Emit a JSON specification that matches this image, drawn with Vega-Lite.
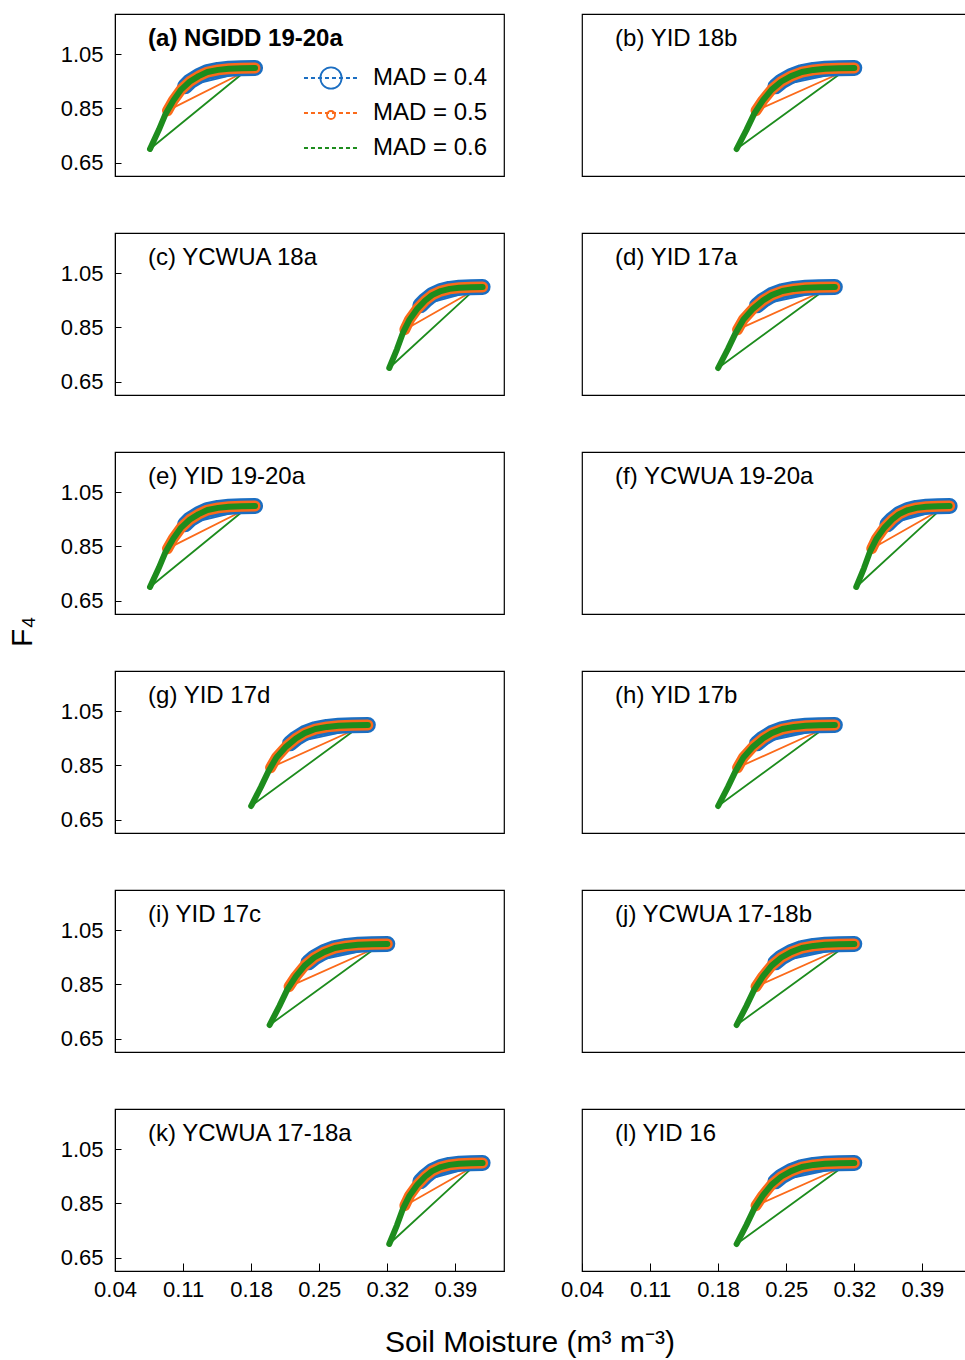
{
"$schema": "https://vega.github.io/schema/vega-lite/v6.json",
"padding": {"left": 8, "top": 13, "right": 0, "bottom": 5},
"background": "white",
"config": {"font": "Liberation Sans", "view": {"stroke": "black", "strokeWidth": 1.2}, "title": {"color": "black", "fontWeight": "normal"}, "headerFacet": {"labels": false, "title": null, "labelFontSize": 0, "labelPadding": 0}},
"datasets": {
"sites": [
{"panel":"a","name":"(a) NGIDD 19-20a"},{"panel":"b","name":"(b) YID 18b"},{"panel":"c","name":"(c) YCWUA 18a"},{"panel":"d","name":"(d) YID 17a"},
{"panel":"e","name":"(e) YID 19-20a"},{"panel":"f","name":"(f) YCWUA 19-20a"},{"panel":"g","name":"(g) YID 17d"},{"panel":"h","name":"(h) YID 17b"},
{"panel":"i","name":"(i) YID 17c"},{"panel":"j","name":"(j) YCWUA 17-18b"},{"panel":"k","name":"(k) YCWUA 17-18a"},{"panel":"l","name":"(l) YID 16"}],
"points": [
{"panel":"a","mad":0.4,"step":0,"phase":"dry","theta":0.184,"F4":1},{"panel":"a","mad":0.4,"step":1,"phase":"dry","theta":0.170,"F4":0.999},{"panel":"a","mad":0.4,"step":2,"phase":"dry","theta":0.157,"F4":0.997},{"panel":"a","mad":0.4,"step":3,"phase":"dry","theta":0.146,"F4":0.993},{"panel":"a","mad":0.4,"step":4,"phase":"dry","theta":0.135,"F4":0.985},{"panel":"a","mad":0.4,"step":5,"phase":"dry","theta":0.126,"F4":0.97},{"panel":"a","mad":0.4,"step":6,"phase":"dry","theta":0.117,"F4":0.95},{"panel":"a","mad":0.4,"step":7,"phase":"dry","theta":0.112,"F4":0.932},{"panel":"a","mad":0.4,"step":8,"phase":"refill","theta":0.173,"F4":0.985},
{"panel":"a","mad":0.5,"step":0,"phase":"dry","theta":0.184,"F4":1},{"panel":"a","mad":0.5,"step":1,"phase":"dry","theta":0.170,"F4":0.999},{"panel":"a","mad":0.5,"step":2,"phase":"dry","theta":0.157,"F4":0.997},{"panel":"a","mad":0.5,"step":3,"phase":"dry","theta":0.146,"F4":0.993},{"panel":"a","mad":0.5,"step":4,"phase":"dry","theta":0.135,"F4":0.985},{"panel":"a","mad":0.5,"step":5,"phase":"dry","theta":0.126,"F4":0.97},{"panel":"a","mad":0.5,"step":6,"phase":"dry","theta":0.117,"F4":0.95},{"panel":"a","mad":0.5,"step":7,"phase":"dry","theta":0.108,"F4":0.92},{"panel":"a","mad":0.5,"step":8,"phase":"dry","theta":0.100,"F4":0.88},{"panel":"a","mad":0.5,"step":9,"phase":"dry","theta":0.094,"F4":0.842},{"panel":"a","mad":0.5,"step":10,"phase":"refill","theta":0.173,"F4":0.985},
{"panel":"a","mad":0.6,"step":0,"phase":"dry","theta":0.184,"F4":1},{"panel":"a","mad":0.6,"step":1,"phase":"dry","theta":0.170,"F4":0.999},{"panel":"a","mad":0.6,"step":2,"phase":"dry","theta":0.157,"F4":0.997},{"panel":"a","mad":0.6,"step":3,"phase":"dry","theta":0.146,"F4":0.993},{"panel":"a","mad":0.6,"step":4,"phase":"dry","theta":0.135,"F4":0.985},{"panel":"a","mad":0.6,"step":5,"phase":"dry","theta":0.126,"F4":0.97},{"panel":"a","mad":0.6,"step":6,"phase":"dry","theta":0.117,"F4":0.95},{"panel":"a","mad":0.6,"step":7,"phase":"dry","theta":0.108,"F4":0.92},{"panel":"a","mad":0.6,"step":8,"phase":"dry","theta":0.100,"F4":0.88},{"panel":"a","mad":0.6,"step":9,"phase":"dry","theta":0.092,"F4":0.83},{"panel":"a","mad":0.6,"step":10,"phase":"dry","theta":0.085,"F4":0.77},{"panel":"a","mad":0.6,"step":11,"phase":"dry","theta":0.076,"F4":0.70},{"panel":"a","mad":0.6,"step":12,"phase":"refill","theta":0.173,"F4":0.985},

{"panel":"e","mad":0.4,"step":0,"phase":"dry","theta":0.184,"F4":1},{"panel":"e","mad":0.4,"step":1,"phase":"dry","theta":0.170,"F4":0.999},{"panel":"e","mad":0.4,"step":2,"phase":"dry","theta":0.157,"F4":0.997},{"panel":"e","mad":0.4,"step":3,"phase":"dry","theta":0.146,"F4":0.993},{"panel":"e","mad":0.4,"step":4,"phase":"dry","theta":0.135,"F4":0.985},{"panel":"e","mad":0.4,"step":5,"phase":"dry","theta":0.126,"F4":0.97},{"panel":"e","mad":0.4,"step":6,"phase":"dry","theta":0.117,"F4":0.95},{"panel":"e","mad":0.4,"step":7,"phase":"dry","theta":0.112,"F4":0.932},{"panel":"e","mad":0.4,"step":8,"phase":"refill","theta":0.173,"F4":0.985},
{"panel":"e","mad":0.5,"step":0,"phase":"dry","theta":0.184,"F4":1},{"panel":"e","mad":0.5,"step":1,"phase":"dry","theta":0.170,"F4":0.999},{"panel":"e","mad":0.5,"step":2,"phase":"dry","theta":0.157,"F4":0.997},{"panel":"e","mad":0.5,"step":3,"phase":"dry","theta":0.146,"F4":0.993},{"panel":"e","mad":0.5,"step":4,"phase":"dry","theta":0.135,"F4":0.985},{"panel":"e","mad":0.5,"step":5,"phase":"dry","theta":0.126,"F4":0.97},{"panel":"e","mad":0.5,"step":6,"phase":"dry","theta":0.117,"F4":0.95},{"panel":"e","mad":0.5,"step":7,"phase":"dry","theta":0.108,"F4":0.92},{"panel":"e","mad":0.5,"step":8,"phase":"dry","theta":0.100,"F4":0.88},{"panel":"e","mad":0.5,"step":9,"phase":"dry","theta":0.094,"F4":0.842},{"panel":"e","mad":0.5,"step":10,"phase":"refill","theta":0.173,"F4":0.985},
{"panel":"e","mad":0.6,"step":0,"phase":"dry","theta":0.184,"F4":1},{"panel":"e","mad":0.6,"step":1,"phase":"dry","theta":0.170,"F4":0.999},{"panel":"e","mad":0.6,"step":2,"phase":"dry","theta":0.157,"F4":0.997},{"panel":"e","mad":0.6,"step":3,"phase":"dry","theta":0.146,"F4":0.993},{"panel":"e","mad":0.6,"step":4,"phase":"dry","theta":0.135,"F4":0.985},{"panel":"e","mad":0.6,"step":5,"phase":"dry","theta":0.126,"F4":0.97},{"panel":"e","mad":0.6,"step":6,"phase":"dry","theta":0.117,"F4":0.95},{"panel":"e","mad":0.6,"step":7,"phase":"dry","theta":0.108,"F4":0.92},{"panel":"e","mad":0.6,"step":8,"phase":"dry","theta":0.100,"F4":0.88},{"panel":"e","mad":0.6,"step":9,"phase":"dry","theta":0.092,"F4":0.83},{"panel":"e","mad":0.6,"step":10,"phase":"dry","theta":0.085,"F4":0.77},{"panel":"e","mad":0.6,"step":11,"phase":"dry","theta":0.076,"F4":0.70},{"panel":"e","mad":0.6,"step":12,"phase":"refill","theta":0.173,"F4":0.985},

{"panel":"b","mad":0.4,"step":0,"phase":"dry","theta":0.320,"F4":1},{"panel":"b","mad":0.4,"step":1,"phase":"dry","theta":0.304,"F4":0.999},{"panel":"b","mad":0.4,"step":2,"phase":"dry","theta":0.290,"F4":0.997},{"panel":"b","mad":0.4,"step":3,"phase":"dry","theta":0.278,"F4":0.993},{"panel":"b","mad":0.4,"step":4,"phase":"dry","theta":0.266,"F4":0.985},{"panel":"b","mad":0.4,"step":5,"phase":"dry","theta":0.255,"F4":0.97},{"panel":"b","mad":0.4,"step":6,"phase":"dry","theta":0.245,"F4":0.95},{"panel":"b","mad":0.4,"step":7,"phase":"dry","theta":0.239,"F4":0.932},{"panel":"b","mad":0.4,"step":8,"phase":"refill","theta":0.308,"F4":0.985},
{"panel":"b","mad":0.5,"step":0,"phase":"dry","theta":0.320,"F4":1},{"panel":"b","mad":0.5,"step":1,"phase":"dry","theta":0.304,"F4":0.999},{"panel":"b","mad":0.5,"step":2,"phase":"dry","theta":0.290,"F4":0.997},{"panel":"b","mad":0.5,"step":3,"phase":"dry","theta":0.278,"F4":0.993},{"panel":"b","mad":0.5,"step":4,"phase":"dry","theta":0.266,"F4":0.985},{"panel":"b","mad":0.5,"step":5,"phase":"dry","theta":0.255,"F4":0.97},{"panel":"b","mad":0.5,"step":6,"phase":"dry","theta":0.245,"F4":0.95},{"panel":"b","mad":0.5,"step":7,"phase":"dry","theta":0.235,"F4":0.92},{"panel":"b","mad":0.5,"step":8,"phase":"dry","theta":0.226,"F4":0.88},{"panel":"b","mad":0.5,"step":9,"phase":"dry","theta":0.219,"F4":0.842},{"panel":"b","mad":0.5,"step":10,"phase":"refill","theta":0.308,"F4":0.985},
{"panel":"b","mad":0.6,"step":0,"phase":"dry","theta":0.320,"F4":1},{"panel":"b","mad":0.6,"step":1,"phase":"dry","theta":0.304,"F4":0.999},{"panel":"b","mad":0.6,"step":2,"phase":"dry","theta":0.290,"F4":0.997},{"panel":"b","mad":0.6,"step":3,"phase":"dry","theta":0.278,"F4":0.993},{"panel":"b","mad":0.6,"step":4,"phase":"dry","theta":0.266,"F4":0.985},{"panel":"b","mad":0.6,"step":5,"phase":"dry","theta":0.255,"F4":0.97},{"panel":"b","mad":0.6,"step":6,"phase":"dry","theta":0.245,"F4":0.95},{"panel":"b","mad":0.6,"step":7,"phase":"dry","theta":0.235,"F4":0.92},{"panel":"b","mad":0.6,"step":8,"phase":"dry","theta":0.226,"F4":0.88},{"panel":"b","mad":0.6,"step":9,"phase":"dry","theta":0.217,"F4":0.83},{"panel":"b","mad":0.6,"step":10,"phase":"dry","theta":0.209,"F4":0.77},{"panel":"b","mad":0.6,"step":11,"phase":"dry","theta":0.199,"F4":0.70},{"panel":"b","mad":0.6,"step":12,"phase":"refill","theta":0.308,"F4":0.985},

{"panel":"i","mad":0.4,"step":0,"phase":"dry","theta":0.320,"F4":1},{"panel":"i","mad":0.4,"step":1,"phase":"dry","theta":0.304,"F4":0.999},{"panel":"i","mad":0.4,"step":2,"phase":"dry","theta":0.290,"F4":0.997},{"panel":"i","mad":0.4,"step":3,"phase":"dry","theta":0.278,"F4":0.993},{"panel":"i","mad":0.4,"step":4,"phase":"dry","theta":0.266,"F4":0.985},{"panel":"i","mad":0.4,"step":5,"phase":"dry","theta":0.255,"F4":0.97},{"panel":"i","mad":0.4,"step":6,"phase":"dry","theta":0.245,"F4":0.95},{"panel":"i","mad":0.4,"step":7,"phase":"dry","theta":0.239,"F4":0.932},{"panel":"i","mad":0.4,"step":8,"phase":"refill","theta":0.308,"F4":0.985},
{"panel":"i","mad":0.5,"step":0,"phase":"dry","theta":0.320,"F4":1},{"panel":"i","mad":0.5,"step":1,"phase":"dry","theta":0.304,"F4":0.999},{"panel":"i","mad":0.5,"step":2,"phase":"dry","theta":0.290,"F4":0.997},{"panel":"i","mad":0.5,"step":3,"phase":"dry","theta":0.278,"F4":0.993},{"panel":"i","mad":0.5,"step":4,"phase":"dry","theta":0.266,"F4":0.985},{"panel":"i","mad":0.5,"step":5,"phase":"dry","theta":0.255,"F4":0.97},{"panel":"i","mad":0.5,"step":6,"phase":"dry","theta":0.245,"F4":0.95},{"panel":"i","mad":0.5,"step":7,"phase":"dry","theta":0.235,"F4":0.92},{"panel":"i","mad":0.5,"step":8,"phase":"dry","theta":0.226,"F4":0.88},{"panel":"i","mad":0.5,"step":9,"phase":"dry","theta":0.219,"F4":0.842},{"panel":"i","mad":0.5,"step":10,"phase":"refill","theta":0.308,"F4":0.985},
{"panel":"i","mad":0.6,"step":0,"phase":"dry","theta":0.320,"F4":1},{"panel":"i","mad":0.6,"step":1,"phase":"dry","theta":0.304,"F4":0.999},{"panel":"i","mad":0.6,"step":2,"phase":"dry","theta":0.290,"F4":0.997},{"panel":"i","mad":0.6,"step":3,"phase":"dry","theta":0.278,"F4":0.993},{"panel":"i","mad":0.6,"step":4,"phase":"dry","theta":0.266,"F4":0.985},{"panel":"i","mad":0.6,"step":5,"phase":"dry","theta":0.255,"F4":0.97},{"panel":"i","mad":0.6,"step":6,"phase":"dry","theta":0.245,"F4":0.95},{"panel":"i","mad":0.6,"step":7,"phase":"dry","theta":0.235,"F4":0.92},{"panel":"i","mad":0.6,"step":8,"phase":"dry","theta":0.226,"F4":0.88},{"panel":"i","mad":0.6,"step":9,"phase":"dry","theta":0.217,"F4":0.83},{"panel":"i","mad":0.6,"step":10,"phase":"dry","theta":0.209,"F4":0.77},{"panel":"i","mad":0.6,"step":11,"phase":"dry","theta":0.199,"F4":0.70},{"panel":"i","mad":0.6,"step":12,"phase":"refill","theta":0.308,"F4":0.985},

{"panel":"j","mad":0.4,"step":0,"phase":"dry","theta":0.320,"F4":1},{"panel":"j","mad":0.4,"step":1,"phase":"dry","theta":0.304,"F4":0.999},{"panel":"j","mad":0.4,"step":2,"phase":"dry","theta":0.290,"F4":0.997},{"panel":"j","mad":0.4,"step":3,"phase":"dry","theta":0.278,"F4":0.993},{"panel":"j","mad":0.4,"step":4,"phase":"dry","theta":0.266,"F4":0.985},{"panel":"j","mad":0.4,"step":5,"phase":"dry","theta":0.255,"F4":0.97},{"panel":"j","mad":0.4,"step":6,"phase":"dry","theta":0.245,"F4":0.95},{"panel":"j","mad":0.4,"step":7,"phase":"dry","theta":0.239,"F4":0.932},{"panel":"j","mad":0.4,"step":8,"phase":"refill","theta":0.308,"F4":0.985},
{"panel":"j","mad":0.5,"step":0,"phase":"dry","theta":0.320,"F4":1},{"panel":"j","mad":0.5,"step":1,"phase":"dry","theta":0.304,"F4":0.999},{"panel":"j","mad":0.5,"step":2,"phase":"dry","theta":0.290,"F4":0.997},{"panel":"j","mad":0.5,"step":3,"phase":"dry","theta":0.278,"F4":0.993},{"panel":"j","mad":0.5,"step":4,"phase":"dry","theta":0.266,"F4":0.985},{"panel":"j","mad":0.5,"step":5,"phase":"dry","theta":0.255,"F4":0.97},{"panel":"j","mad":0.5,"step":6,"phase":"dry","theta":0.245,"F4":0.95},{"panel":"j","mad":0.5,"step":7,"phase":"dry","theta":0.235,"F4":0.92},{"panel":"j","mad":0.5,"step":8,"phase":"dry","theta":0.226,"F4":0.88},{"panel":"j","mad":0.5,"step":9,"phase":"dry","theta":0.219,"F4":0.842},{"panel":"j","mad":0.5,"step":10,"phase":"refill","theta":0.308,"F4":0.985},
{"panel":"j","mad":0.6,"step":0,"phase":"dry","theta":0.320,"F4":1},{"panel":"j","mad":0.6,"step":1,"phase":"dry","theta":0.304,"F4":0.999},{"panel":"j","mad":0.6,"step":2,"phase":"dry","theta":0.290,"F4":0.997},{"panel":"j","mad":0.6,"step":3,"phase":"dry","theta":0.278,"F4":0.993},{"panel":"j","mad":0.6,"step":4,"phase":"dry","theta":0.266,"F4":0.985},{"panel":"j","mad":0.6,"step":5,"phase":"dry","theta":0.255,"F4":0.97},{"panel":"j","mad":0.6,"step":6,"phase":"dry","theta":0.245,"F4":0.95},{"panel":"j","mad":0.6,"step":7,"phase":"dry","theta":0.235,"F4":0.92},{"panel":"j","mad":0.6,"step":8,"phase":"dry","theta":0.226,"F4":0.88},{"panel":"j","mad":0.6,"step":9,"phase":"dry","theta":0.217,"F4":0.83},{"panel":"j","mad":0.6,"step":10,"phase":"dry","theta":0.209,"F4":0.77},{"panel":"j","mad":0.6,"step":11,"phase":"dry","theta":0.199,"F4":0.70},{"panel":"j","mad":0.6,"step":12,"phase":"refill","theta":0.308,"F4":0.985},

{"panel":"l","mad":0.4,"step":0,"phase":"dry","theta":0.320,"F4":1},{"panel":"l","mad":0.4,"step":1,"phase":"dry","theta":0.304,"F4":0.999},{"panel":"l","mad":0.4,"step":2,"phase":"dry","theta":0.290,"F4":0.997},{"panel":"l","mad":0.4,"step":3,"phase":"dry","theta":0.278,"F4":0.993},{"panel":"l","mad":0.4,"step":4,"phase":"dry","theta":0.266,"F4":0.985},{"panel":"l","mad":0.4,"step":5,"phase":"dry","theta":0.255,"F4":0.97},{"panel":"l","mad":0.4,"step":6,"phase":"dry","theta":0.245,"F4":0.95},{"panel":"l","mad":0.4,"step":7,"phase":"dry","theta":0.239,"F4":0.932},{"panel":"l","mad":0.4,"step":8,"phase":"refill","theta":0.308,"F4":0.985},
{"panel":"l","mad":0.5,"step":0,"phase":"dry","theta":0.320,"F4":1},{"panel":"l","mad":0.5,"step":1,"phase":"dry","theta":0.304,"F4":0.999},{"panel":"l","mad":0.5,"step":2,"phase":"dry","theta":0.290,"F4":0.997},{"panel":"l","mad":0.5,"step":3,"phase":"dry","theta":0.278,"F4":0.993},{"panel":"l","mad":0.5,"step":4,"phase":"dry","theta":0.266,"F4":0.985},{"panel":"l","mad":0.5,"step":5,"phase":"dry","theta":0.255,"F4":0.97},{"panel":"l","mad":0.5,"step":6,"phase":"dry","theta":0.245,"F4":0.95},{"panel":"l","mad":0.5,"step":7,"phase":"dry","theta":0.235,"F4":0.92},{"panel":"l","mad":0.5,"step":8,"phase":"dry","theta":0.226,"F4":0.88},{"panel":"l","mad":0.5,"step":9,"phase":"dry","theta":0.219,"F4":0.842},{"panel":"l","mad":0.5,"step":10,"phase":"refill","theta":0.308,"F4":0.985},
{"panel":"l","mad":0.6,"step":0,"phase":"dry","theta":0.320,"F4":1},{"panel":"l","mad":0.6,"step":1,"phase":"dry","theta":0.304,"F4":0.999},{"panel":"l","mad":0.6,"step":2,"phase":"dry","theta":0.290,"F4":0.997},{"panel":"l","mad":0.6,"step":3,"phase":"dry","theta":0.278,"F4":0.993},{"panel":"l","mad":0.6,"step":4,"phase":"dry","theta":0.266,"F4":0.985},{"panel":"l","mad":0.6,"step":5,"phase":"dry","theta":0.255,"F4":0.97},{"panel":"l","mad":0.6,"step":6,"phase":"dry","theta":0.245,"F4":0.95},{"panel":"l","mad":0.6,"step":7,"phase":"dry","theta":0.235,"F4":0.92},{"panel":"l","mad":0.6,"step":8,"phase":"dry","theta":0.226,"F4":0.88},{"panel":"l","mad":0.6,"step":9,"phase":"dry","theta":0.217,"F4":0.83},{"panel":"l","mad":0.6,"step":10,"phase":"dry","theta":0.209,"F4":0.77},{"panel":"l","mad":0.6,"step":11,"phase":"dry","theta":0.199,"F4":0.70},{"panel":"l","mad":0.6,"step":12,"phase":"refill","theta":0.308,"F4":0.985},

{"panel":"c","mad":0.4,"step":0,"phase":"dry","theta":0.418,"F4":1},{"panel":"c","mad":0.4,"step":1,"phase":"dry","theta":0.406,"F4":0.999},{"panel":"c","mad":0.4,"step":2,"phase":"dry","theta":0.394,"F4":0.997},{"panel":"c","mad":0.4,"step":3,"phase":"dry","theta":0.384,"F4":0.993},{"panel":"c","mad":0.4,"step":4,"phase":"dry","theta":0.375,"F4":0.985},{"panel":"c","mad":0.4,"step":5,"phase":"dry","theta":0.366,"F4":0.97},{"panel":"c","mad":0.4,"step":6,"phase":"dry","theta":0.359,"F4":0.95},{"panel":"c","mad":0.4,"step":7,"phase":"dry","theta":0.354,"F4":0.932},{"panel":"c","mad":0.4,"step":8,"phase":"refill","theta":0.408,"F4":0.985},
{"panel":"c","mad":0.5,"step":0,"phase":"dry","theta":0.418,"F4":1},{"panel":"c","mad":0.5,"step":1,"phase":"dry","theta":0.406,"F4":0.999},{"panel":"c","mad":0.5,"step":2,"phase":"dry","theta":0.394,"F4":0.997},{"panel":"c","mad":0.5,"step":3,"phase":"dry","theta":0.384,"F4":0.993},{"panel":"c","mad":0.5,"step":4,"phase":"dry","theta":0.375,"F4":0.985},{"panel":"c","mad":0.5,"step":5,"phase":"dry","theta":0.366,"F4":0.97},{"panel":"c","mad":0.5,"step":6,"phase":"dry","theta":0.359,"F4":0.95},{"panel":"c","mad":0.5,"step":7,"phase":"dry","theta":0.351,"F4":0.92},{"panel":"c","mad":0.5,"step":8,"phase":"dry","theta":0.343,"F4":0.88},{"panel":"c","mad":0.5,"step":9,"phase":"dry","theta":0.338,"F4":0.842},{"panel":"c","mad":0.5,"step":10,"phase":"refill","theta":0.408,"F4":0.985},
{"panel":"c","mad":0.6,"step":0,"phase":"dry","theta":0.418,"F4":1},{"panel":"c","mad":0.6,"step":1,"phase":"dry","theta":0.406,"F4":0.999},{"panel":"c","mad":0.6,"step":2,"phase":"dry","theta":0.394,"F4":0.997},{"panel":"c","mad":0.6,"step":3,"phase":"dry","theta":0.384,"F4":0.993},{"panel":"c","mad":0.6,"step":4,"phase":"dry","theta":0.375,"F4":0.985},{"panel":"c","mad":0.6,"step":5,"phase":"dry","theta":0.366,"F4":0.97},{"panel":"c","mad":0.6,"step":6,"phase":"dry","theta":0.359,"F4":0.95},{"panel":"c","mad":0.6,"step":7,"phase":"dry","theta":0.351,"F4":0.92},{"panel":"c","mad":0.6,"step":8,"phase":"dry","theta":0.343,"F4":0.88},{"panel":"c","mad":0.6,"step":9,"phase":"dry","theta":0.336,"F4":0.83},{"panel":"c","mad":0.6,"step":10,"phase":"dry","theta":0.330,"F4":0.77},{"panel":"c","mad":0.6,"step":11,"phase":"dry","theta":0.322,"F4":0.70},{"panel":"c","mad":0.6,"step":12,"phase":"refill","theta":0.408,"F4":0.985},

{"panel":"f","mad":0.4,"step":0,"phase":"dry","theta":0.418,"F4":1},{"panel":"f","mad":0.4,"step":1,"phase":"dry","theta":0.406,"F4":0.999},{"panel":"f","mad":0.4,"step":2,"phase":"dry","theta":0.394,"F4":0.997},{"panel":"f","mad":0.4,"step":3,"phase":"dry","theta":0.384,"F4":0.993},{"panel":"f","mad":0.4,"step":4,"phase":"dry","theta":0.375,"F4":0.985},{"panel":"f","mad":0.4,"step":5,"phase":"dry","theta":0.366,"F4":0.97},{"panel":"f","mad":0.4,"step":6,"phase":"dry","theta":0.359,"F4":0.95},{"panel":"f","mad":0.4,"step":7,"phase":"dry","theta":0.354,"F4":0.932},{"panel":"f","mad":0.4,"step":8,"phase":"refill","theta":0.408,"F4":0.985},
{"panel":"f","mad":0.5,"step":0,"phase":"dry","theta":0.418,"F4":1},{"panel":"f","mad":0.5,"step":1,"phase":"dry","theta":0.406,"F4":0.999},{"panel":"f","mad":0.5,"step":2,"phase":"dry","theta":0.394,"F4":0.997},{"panel":"f","mad":0.5,"step":3,"phase":"dry","theta":0.384,"F4":0.993},{"panel":"f","mad":0.5,"step":4,"phase":"dry","theta":0.375,"F4":0.985},{"panel":"f","mad":0.5,"step":5,"phase":"dry","theta":0.366,"F4":0.97},{"panel":"f","mad":0.5,"step":6,"phase":"dry","theta":0.359,"F4":0.95},{"panel":"f","mad":0.5,"step":7,"phase":"dry","theta":0.351,"F4":0.92},{"panel":"f","mad":0.5,"step":8,"phase":"dry","theta":0.343,"F4":0.88},{"panel":"f","mad":0.5,"step":9,"phase":"dry","theta":0.338,"F4":0.842},{"panel":"f","mad":0.5,"step":10,"phase":"refill","theta":0.408,"F4":0.985},
{"panel":"f","mad":0.6,"step":0,"phase":"dry","theta":0.418,"F4":1},{"panel":"f","mad":0.6,"step":1,"phase":"dry","theta":0.406,"F4":0.999},{"panel":"f","mad":0.6,"step":2,"phase":"dry","theta":0.394,"F4":0.997},{"panel":"f","mad":0.6,"step":3,"phase":"dry","theta":0.384,"F4":0.993},{"panel":"f","mad":0.6,"step":4,"phase":"dry","theta":0.375,"F4":0.985},{"panel":"f","mad":0.6,"step":5,"phase":"dry","theta":0.366,"F4":0.97},{"panel":"f","mad":0.6,"step":6,"phase":"dry","theta":0.359,"F4":0.95},{"panel":"f","mad":0.6,"step":7,"phase":"dry","theta":0.351,"F4":0.92},{"panel":"f","mad":0.6,"step":8,"phase":"dry","theta":0.343,"F4":0.88},{"panel":"f","mad":0.6,"step":9,"phase":"dry","theta":0.336,"F4":0.83},{"panel":"f","mad":0.6,"step":10,"phase":"dry","theta":0.330,"F4":0.77},{"panel":"f","mad":0.6,"step":11,"phase":"dry","theta":0.322,"F4":0.70},{"panel":"f","mad":0.6,"step":12,"phase":"refill","theta":0.408,"F4":0.985},

{"panel":"k","mad":0.4,"step":0,"phase":"dry","theta":0.418,"F4":1},{"panel":"k","mad":0.4,"step":1,"phase":"dry","theta":0.406,"F4":0.999},{"panel":"k","mad":0.4,"step":2,"phase":"dry","theta":0.394,"F4":0.997},{"panel":"k","mad":0.4,"step":3,"phase":"dry","theta":0.384,"F4":0.993},{"panel":"k","mad":0.4,"step":4,"phase":"dry","theta":0.375,"F4":0.985},{"panel":"k","mad":0.4,"step":5,"phase":"dry","theta":0.366,"F4":0.97},{"panel":"k","mad":0.4,"step":6,"phase":"dry","theta":0.359,"F4":0.95},{"panel":"k","mad":0.4,"step":7,"phase":"dry","theta":0.354,"F4":0.932},{"panel":"k","mad":0.4,"step":8,"phase":"refill","theta":0.408,"F4":0.985},
{"panel":"k","mad":0.5,"step":0,"phase":"dry","theta":0.418,"F4":1},{"panel":"k","mad":0.5,"step":1,"phase":"dry","theta":0.406,"F4":0.999},{"panel":"k","mad":0.5,"step":2,"phase":"dry","theta":0.394,"F4":0.997},{"panel":"k","mad":0.5,"step":3,"phase":"dry","theta":0.384,"F4":0.993},{"panel":"k","mad":0.5,"step":4,"phase":"dry","theta":0.375,"F4":0.985},{"panel":"k","mad":0.5,"step":5,"phase":"dry","theta":0.366,"F4":0.97},{"panel":"k","mad":0.5,"step":6,"phase":"dry","theta":0.359,"F4":0.95},{"panel":"k","mad":0.5,"step":7,"phase":"dry","theta":0.351,"F4":0.92},{"panel":"k","mad":0.5,"step":8,"phase":"dry","theta":0.343,"F4":0.88},{"panel":"k","mad":0.5,"step":9,"phase":"dry","theta":0.338,"F4":0.842},{"panel":"k","mad":0.5,"step":10,"phase":"refill","theta":0.408,"F4":0.985},
{"panel":"k","mad":0.6,"step":0,"phase":"dry","theta":0.418,"F4":1},{"panel":"k","mad":0.6,"step":1,"phase":"dry","theta":0.406,"F4":0.999},{"panel":"k","mad":0.6,"step":2,"phase":"dry","theta":0.394,"F4":0.997},{"panel":"k","mad":0.6,"step":3,"phase":"dry","theta":0.384,"F4":0.993},{"panel":"k","mad":0.6,"step":4,"phase":"dry","theta":0.375,"F4":0.985},{"panel":"k","mad":0.6,"step":5,"phase":"dry","theta":0.366,"F4":0.97},{"panel":"k","mad":0.6,"step":6,"phase":"dry","theta":0.359,"F4":0.95},{"panel":"k","mad":0.6,"step":7,"phase":"dry","theta":0.351,"F4":0.92},{"panel":"k","mad":0.6,"step":8,"phase":"dry","theta":0.343,"F4":0.88},{"panel":"k","mad":0.6,"step":9,"phase":"dry","theta":0.336,"F4":0.83},{"panel":"k","mad":0.6,"step":10,"phase":"dry","theta":0.330,"F4":0.77},{"panel":"k","mad":0.6,"step":11,"phase":"dry","theta":0.322,"F4":0.70},{"panel":"k","mad":0.6,"step":12,"phase":"refill","theta":0.408,"F4":0.985},

{"panel":"d","mad":0.4,"step":0,"phase":"dry","theta":0.300,"F4":1},{"panel":"d","mad":0.4,"step":1,"phase":"dry","theta":0.284,"F4":0.999},{"panel":"d","mad":0.4,"step":2,"phase":"dry","theta":0.270,"F4":0.997},{"panel":"d","mad":0.4,"step":3,"phase":"dry","theta":0.258,"F4":0.993},{"panel":"d","mad":0.4,"step":4,"phase":"dry","theta":0.246,"F4":0.985},{"panel":"d","mad":0.4,"step":5,"phase":"dry","theta":0.235,"F4":0.97},{"panel":"d","mad":0.4,"step":6,"phase":"dry","theta":0.226,"F4":0.95},{"panel":"d","mad":0.4,"step":7,"phase":"dry","theta":0.220,"F4":0.932},{"panel":"d","mad":0.4,"step":8,"phase":"refill","theta":0.288,"F4":0.985},
{"panel":"d","mad":0.5,"step":0,"phase":"dry","theta":0.300,"F4":1},{"panel":"d","mad":0.5,"step":1,"phase":"dry","theta":0.284,"F4":0.999},{"panel":"d","mad":0.5,"step":2,"phase":"dry","theta":0.270,"F4":0.997},{"panel":"d","mad":0.5,"step":3,"phase":"dry","theta":0.258,"F4":0.993},{"panel":"d","mad":0.5,"step":4,"phase":"dry","theta":0.246,"F4":0.985},{"panel":"d","mad":0.5,"step":5,"phase":"dry","theta":0.235,"F4":0.97},{"panel":"d","mad":0.5,"step":6,"phase":"dry","theta":0.226,"F4":0.95},{"panel":"d","mad":0.5,"step":7,"phase":"dry","theta":0.216,"F4":0.92},{"panel":"d","mad":0.5,"step":8,"phase":"dry","theta":0.206,"F4":0.88},{"panel":"d","mad":0.5,"step":9,"phase":"dry","theta":0.200,"F4":0.842},{"panel":"d","mad":0.5,"step":10,"phase":"refill","theta":0.288,"F4":0.985},
{"panel":"d","mad":0.6,"step":0,"phase":"dry","theta":0.300,"F4":1},{"panel":"d","mad":0.6,"step":1,"phase":"dry","theta":0.284,"F4":0.999},{"panel":"d","mad":0.6,"step":2,"phase":"dry","theta":0.270,"F4":0.997},{"panel":"d","mad":0.6,"step":3,"phase":"dry","theta":0.258,"F4":0.993},{"panel":"d","mad":0.6,"step":4,"phase":"dry","theta":0.246,"F4":0.985},{"panel":"d","mad":0.6,"step":5,"phase":"dry","theta":0.235,"F4":0.97},{"panel":"d","mad":0.6,"step":6,"phase":"dry","theta":0.226,"F4":0.95},{"panel":"d","mad":0.6,"step":7,"phase":"dry","theta":0.216,"F4":0.92},{"panel":"d","mad":0.6,"step":8,"phase":"dry","theta":0.206,"F4":0.88},{"panel":"d","mad":0.6,"step":9,"phase":"dry","theta":0.198,"F4":0.83},{"panel":"d","mad":0.6,"step":10,"phase":"dry","theta":0.190,"F4":0.77},{"panel":"d","mad":0.6,"step":11,"phase":"dry","theta":0.180,"F4":0.70},{"panel":"d","mad":0.6,"step":12,"phase":"refill","theta":0.288,"F4":0.985},

{"panel":"g","mad":0.4,"step":0,"phase":"dry","theta":0.300,"F4":1},{"panel":"g","mad":0.4,"step":1,"phase":"dry","theta":0.284,"F4":0.999},{"panel":"g","mad":0.4,"step":2,"phase":"dry","theta":0.270,"F4":0.997},{"panel":"g","mad":0.4,"step":3,"phase":"dry","theta":0.258,"F4":0.993},{"panel":"g","mad":0.4,"step":4,"phase":"dry","theta":0.246,"F4":0.985},{"panel":"g","mad":0.4,"step":5,"phase":"dry","theta":0.235,"F4":0.97},{"panel":"g","mad":0.4,"step":6,"phase":"dry","theta":0.226,"F4":0.95},{"panel":"g","mad":0.4,"step":7,"phase":"dry","theta":0.220,"F4":0.932},{"panel":"g","mad":0.4,"step":8,"phase":"refill","theta":0.288,"F4":0.985},
{"panel":"g","mad":0.5,"step":0,"phase":"dry","theta":0.300,"F4":1},{"panel":"g","mad":0.5,"step":1,"phase":"dry","theta":0.284,"F4":0.999},{"panel":"g","mad":0.5,"step":2,"phase":"dry","theta":0.270,"F4":0.997},{"panel":"g","mad":0.5,"step":3,"phase":"dry","theta":0.258,"F4":0.993},{"panel":"g","mad":0.5,"step":4,"phase":"dry","theta":0.246,"F4":0.985},{"panel":"g","mad":0.5,"step":5,"phase":"dry","theta":0.235,"F4":0.97},{"panel":"g","mad":0.5,"step":6,"phase":"dry","theta":0.226,"F4":0.95},{"panel":"g","mad":0.5,"step":7,"phase":"dry","theta":0.216,"F4":0.92},{"panel":"g","mad":0.5,"step":8,"phase":"dry","theta":0.206,"F4":0.88},{"panel":"g","mad":0.5,"step":9,"phase":"dry","theta":0.200,"F4":0.842},{"panel":"g","mad":0.5,"step":10,"phase":"refill","theta":0.288,"F4":0.985},
{"panel":"g","mad":0.6,"step":0,"phase":"dry","theta":0.300,"F4":1},{"panel":"g","mad":0.6,"step":1,"phase":"dry","theta":0.284,"F4":0.999},{"panel":"g","mad":0.6,"step":2,"phase":"dry","theta":0.270,"F4":0.997},{"panel":"g","mad":0.6,"step":3,"phase":"dry","theta":0.258,"F4":0.993},{"panel":"g","mad":0.6,"step":4,"phase":"dry","theta":0.246,"F4":0.985},{"panel":"g","mad":0.6,"step":5,"phase":"dry","theta":0.235,"F4":0.97},{"panel":"g","mad":0.6,"step":6,"phase":"dry","theta":0.226,"F4":0.95},{"panel":"g","mad":0.6,"step":7,"phase":"dry","theta":0.216,"F4":0.92},{"panel":"g","mad":0.6,"step":8,"phase":"dry","theta":0.206,"F4":0.88},{"panel":"g","mad":0.6,"step":9,"phase":"dry","theta":0.198,"F4":0.83},{"panel":"g","mad":0.6,"step":10,"phase":"dry","theta":0.190,"F4":0.77},{"panel":"g","mad":0.6,"step":11,"phase":"dry","theta":0.180,"F4":0.70},{"panel":"g","mad":0.6,"step":12,"phase":"refill","theta":0.288,"F4":0.985},

{"panel":"h","mad":0.4,"step":0,"phase":"dry","theta":0.300,"F4":1},{"panel":"h","mad":0.4,"step":1,"phase":"dry","theta":0.284,"F4":0.999},{"panel":"h","mad":0.4,"step":2,"phase":"dry","theta":0.270,"F4":0.997},{"panel":"h","mad":0.4,"step":3,"phase":"dry","theta":0.258,"F4":0.993},{"panel":"h","mad":0.4,"step":4,"phase":"dry","theta":0.246,"F4":0.985},{"panel":"h","mad":0.4,"step":5,"phase":"dry","theta":0.235,"F4":0.97},{"panel":"h","mad":0.4,"step":6,"phase":"dry","theta":0.226,"F4":0.95},{"panel":"h","mad":0.4,"step":7,"phase":"dry","theta":0.220,"F4":0.932},{"panel":"h","mad":0.4,"step":8,"phase":"refill","theta":0.288,"F4":0.985},
{"panel":"h","mad":0.5,"step":0,"phase":"dry","theta":0.300,"F4":1},{"panel":"h","mad":0.5,"step":1,"phase":"dry","theta":0.284,"F4":0.999},{"panel":"h","mad":0.5,"step":2,"phase":"dry","theta":0.270,"F4":0.997},{"panel":"h","mad":0.5,"step":3,"phase":"dry","theta":0.258,"F4":0.993},{"panel":"h","mad":0.5,"step":4,"phase":"dry","theta":0.246,"F4":0.985},{"panel":"h","mad":0.5,"step":5,"phase":"dry","theta":0.235,"F4":0.97},{"panel":"h","mad":0.5,"step":6,"phase":"dry","theta":0.226,"F4":0.95},{"panel":"h","mad":0.5,"step":7,"phase":"dry","theta":0.216,"F4":0.92},{"panel":"h","mad":0.5,"step":8,"phase":"dry","theta":0.206,"F4":0.88},{"panel":"h","mad":0.5,"step":9,"phase":"dry","theta":0.200,"F4":0.842},{"panel":"h","mad":0.5,"step":10,"phase":"refill","theta":0.288,"F4":0.985},
{"panel":"h","mad":0.6,"step":0,"phase":"dry","theta":0.300,"F4":1},{"panel":"h","mad":0.6,"step":1,"phase":"dry","theta":0.284,"F4":0.999},{"panel":"h","mad":0.6,"step":2,"phase":"dry","theta":0.270,"F4":0.997},{"panel":"h","mad":0.6,"step":3,"phase":"dry","theta":0.258,"F4":0.993},{"panel":"h","mad":0.6,"step":4,"phase":"dry","theta":0.246,"F4":0.985},{"panel":"h","mad":0.6,"step":5,"phase":"dry","theta":0.235,"F4":0.97},{"panel":"h","mad":0.6,"step":6,"phase":"dry","theta":0.226,"F4":0.95},{"panel":"h","mad":0.6,"step":7,"phase":"dry","theta":0.216,"F4":0.92},{"panel":"h","mad":0.6,"step":8,"phase":"dry","theta":0.206,"F4":0.88},{"panel":"h","mad":0.6,"step":9,"phase":"dry","theta":0.198,"F4":0.83},{"panel":"h","mad":0.6,"step":10,"phase":"dry","theta":0.190,"F4":0.77},{"panel":"h","mad":0.6,"step":11,"phase":"dry","theta":0.180,"F4":0.70},{"panel":"h","mad":0.6,"step":12,"phase":"refill","theta":0.288,"F4":0.985}
]},
"title": {"text": "Soil Moisture (m³ m⁻³)", "orient": "bottom", "anchor": "middle", "fontSize": 30, "fontWeight": "normal", "offset": 28, "dx": 40},
"vconcat": [{
  "data": {"name": "points"},
  "transform": [
    {"lookup": "panel", "from": {"data": {"name": "sites"}, "key": "panel", "fields": ["name"]}},
    {"calculate": "format(datum.mad, '.1f')", "as": "marker"}
  ],
  "title": {"text": "F₄", "orient": "left", "anchor": "middle", "fontSize": 30, "fontWeight": "normal", "offset": 22, "dx": 25},
  "facet": {"field": "panel", "type": "nominal", "header": {"labels": false, "title": null, "labelFontSize": 0, "labelPadding": 0}},
  "columns": 2,
  "spacing": {"row": 57, "column": 78},
  "bounds": "flush",
  "spec": {
    "width": 389, "height": 162,
    "encoding": {
      "x": {"field": "theta", "type": "quantitative", "scale": {"domain": [0.04, 0.44], "nice": false, "zero": false},
            "axis": {"title": null, "values": [0.04, 0.11, 0.18, 0.25, 0.32, 0.39], "format": ".2f", "labelFontSize": 22, "labelColor": "black", "labelFlush": false, "labelOverlap": false, "tickSize": -8, "labelPadding": 16, "tickColor": "black", "domainColor": "black", "grid": false}},
      "y": {"field": "F4", "type": "quantitative", "scale": {"domain": [0.6, 1.2], "nice": false, "zero": false},
            "axis": {"title": null, "values": [0.65, 0.85, 1.05], "format": ".2f", "labelFontSize": 22, "labelColor": "black", "labelFlush": false, "labelOverlap": false, "tickSize": -6, "labelPadding": 18, "tickColor": "black", "domainColor": "black", "grid": false}}
    },
    "layer": [
      {"mark": {"type": "line", "strokeWidth": 1.8, "strokeJoin": "round"},
       "encoding": {
         "color": {"field": "mad", "type": "nominal", "scale": {"domain": [0.4, 0.5, 0.6], "range": ["#1b6ec2", "#fb6a1a", "#1d8c1d"]},
                   "legend": {"title": null, "orient": "none", "legendX": 204, "legendY": 52, "direction": "vertical", "symbolType": "M-2.5,0H2.5", "symbolDash": [4, 3], "symbolStrokeWidth": 2, "symbolSize": 467, "labelFontSize": 24, "labelColor": "black", "labelOffset": 30, "rowPadding": 11, "padding": 0, "labelExpr": "'MAD = ' + datum.label"}},
         "order": {"field": "step", "type": "quantitative"}}},
      {"transform": [{"filter": "false"}],
       "mark": {"type": "point", "filled": false, "strokeWidth": 1.8, "opacity": 1},
       "encoding": {
         "stroke": {"field": "marker", "type": "nominal", "scale": {"domain": ["0.4", "0.5", "0.6"], "range": ["#1b6ec2", "#fb6a1a", "#1d8c1d"]},
                    "legend": {"title": null, "orient": "none", "legendX": 204, "legendY": 52, "direction": "vertical", "labelExpr": "''", "padding": 0, "rowPadding": 14, "symbolStrokeWidth": 1.8, "symbolFillColor": "transparent"}},
         "size": {"field": "marker", "type": "nominal", "scale": {"type": "ordinal", "domain": ["0.4", "0.5", "0.6"], "range": [452, 64, 0]},
                  "legend": {"title": null, "orient": "none", "legendX": 204, "legendY": 52, "direction": "vertical", "labelExpr": "''", "padding": 0, "rowPadding": 14, "symbolStrokeWidth": 1.8, "symbolFillColor": "transparent"}}}},
      {"transform": [{"filter": "datum.phase == 'dry' && datum.mad == 0.4"}],
       "mark": {"type": "line", "strokeWidth": 16, "strokeCap": "round", "strokeJoin": "round", "color": "#1b6ec2"},
       "encoding": {"order": {"field": "step", "type": "quantitative"}}},
      {"transform": [{"filter": "datum.phase == 'dry' && datum.mad == 0.5"}],
       "mark": {"type": "line", "strokeWidth": 11, "strokeCap": "round", "strokeJoin": "round", "color": "#fb6a1a"},
       "encoding": {"order": {"field": "step", "type": "quantitative"}}},
      {"transform": [{"filter": "datum.phase == 'dry' && datum.mad == 0.6"}],
       "mark": {"type": "line", "strokeWidth": 6, "strokeCap": "round", "strokeJoin": "round", "color": "#1d8c1d"},
       "encoding": {"order": {"field": "step", "type": "quantitative"}}},
      {"transform": [{"filter": "datum.mad == 0.4 && datum.step == 0"}],
       "mark": {"type": "text", "align": "left", "baseline": "middle", "fontSize": 24, "color": "black", "fontWeight": {"expr": "datum.panel == 'a' ? 'bold' : 'normal'"}},
       "encoding": {"x": {"datum": 0.074, "type": "quantitative"}, "y": {"datum": 1.109, "type": "quantitative"}, "text": {"field": "name"}}}
    ]
  }
}]
}
